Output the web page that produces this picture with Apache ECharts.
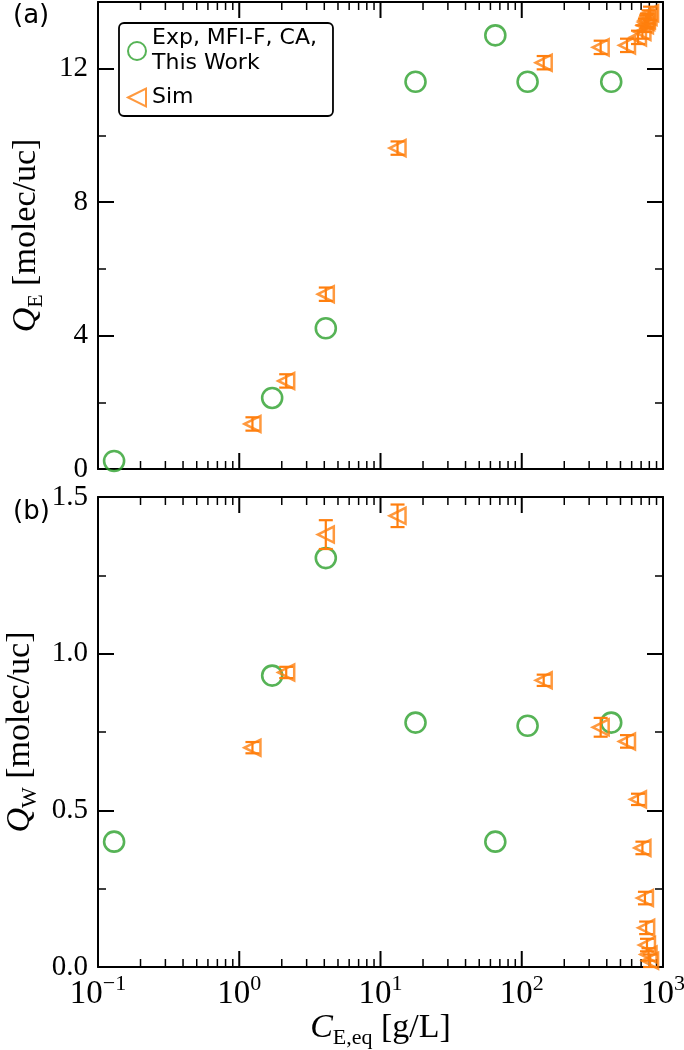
<!DOCTYPE html>
<html><head><meta charset="utf-8">
<script src="https://cdn.jsdelivr.net/npm/echarts@6/dist/echarts.min.js"></script>
<style>html,body{margin:0;padding:0;background:#fff}#c{width:684px;height:1050px}</style>
</head><body><div id="c"></div>
<script>
// ---- data ----
const expC  = [0.13, 1.71, 4.1, 17.7, 65, 110, 430];
const expQE = [0.24, 2.13, 4.22, 11.61, 13.0, 11.61, 11.61];
const expQW = [0.40, 0.93, 1.305, 0.78, 0.40, 0.77, 0.78];

const simC   = [1.24, 2.15, 4.1, 13.2, 143, 362, 556, 665, 715, 745, 760, 770, 790, 810];
const simQE  = [1.35, 2.64, 5.24, 9.62, 12.18, 12.64, 12.70, 12.94, 13.10, 13.30, 13.40, 13.45, 13.55, 13.66];
const simQEe = [0.2, 0.2, 0.2, 0.2, 0.2, 0.2, 0.2, 0.2, 0.2, 0.2, 0.2, 0.2, 0.2, 0.2];
const simQW  = [0.70, 0.94, 1.38, 1.44, 0.915, 0.765, 0.72, 0.535, 0.38, 0.22, 0.125, 0.07, 0.04, 0.02];
const simQWe = [0.018, 0.018, 0.046, 0.036, 0.018, 0.03, 0.02, 0.018, 0.02, 0.02, 0.02, 0.02, 0.02, 0.02];

const xDecades = [0.1, 1, 10, 100, 1000];
const qeTicks = [0, 4, 8, 12];
const qwTicks = [0.0, 0.5, 1.0, 1.5];

const GREEN = '#2ca02c', ORANGE = '#ff7f0e';
const SERIF = "'Liberation Serif', 'DejaVu Serif', serif";
const SANS = "'DejaVu Sans', 'Noto Sans', sans-serif";

// x-axis tick positions (decades + 2..9 minors)
const xTicks = xDecades.map(v => [v, 0]);
for (let k = -1; k < 3; k++) for (let m = 2; m < 10; m++) xTicks.push([m * Math.pow(10, k), 0]);

const chart = echarts.init(document.getElementById('c'));

const supMap = {'-1': '−1', '0': '0', '1': '1', '2': '2', '3': '3'};
function xLabel(v) {
  const e = Math.round(Math.log10(v));
  return '{b|10}{s|' + supMap[String(e)] + '}';
}

function titleRich(fs, sfs) {
  return {
    i: {fontFamily: SERIF, fontStyle: 'italic', fontSize: fs, color: '#000', lineHeight: fs + 8, verticalAlign: 'middle'},
    sub: {fontFamily: SERIF, fontSize: sfs, color: '#000', lineHeight: sfs, verticalAlign: 'bottom'},
    n: {fontFamily: SERIF, fontSize: fs, color: '#000', lineHeight: fs + 8, verticalAlign: 'middle'}
  };
}

function xAx(grid, pos, showLabels, name) {
  return {
    type: 'log', logBase: 10, gridIndex: grid, position: pos, min: 0.1, max: 1000,
    axisLine: {show: true, onZero: false, lineStyle: {color: '#000', width: 2}},
    axisTick: {show: false},
    minorTick: {show: false},
    splitLine: {show: false},
    axisLabel: {show: showLabels, margin: 6, formatter: xLabel, hideOverlap: false,
      rich: {
        b: {fontFamily: SERIF, fontSize: 33, color: '#000', lineHeight: 42, verticalAlign: 'middle'},
        s: {fontFamily: SERIF, fontSize: 22, color: '#000', lineHeight: 22, verticalAlign: 'top'}
      }},
    name: name || '',
    nameLocation: 'middle', nameGap: 36,
    nameTextStyle: {rich: titleRich(34, 22)}
  };
}

function yAx(grid, pos, min, max, interval, showLabels, fmt, name) {
  return {
    type: 'value', gridIndex: grid, position: pos, min: min, max: max, interval: interval,
    axisLine: {show: true, onZero: false, lineStyle: {color: '#000', width: 2}},
    axisTick: {show: true, inside: true, length: 16, lineStyle: {color: '#000', width: 2}},
    minorTick: {show: true, splitNumber: 2, length: 8, lineStyle: {color: '#000', width: 1.5}},
    splitLine: {show: false}, minorSplitLine: {show: false},
    axisLabel: {show: showLabels, margin: 10, fontFamily: SERIF, fontSize: 29, color: '#000',
      formatter: fmt, hideOverlap: false},
    name: name || '',
    nameLocation: 'middle', nameGap: 51, nameRotate: 90,
    nameTextStyle: {rich: titleRich(34, 22)}
  };
}

function fmtQE(v) { return qeTicks.indexOf(v) >= 0 ? String(v) : ''; }
function fmtQW(v) { return qwTicks.some(t => Math.abs(t - v) < 1e-9) ? v.toFixed(1) : ''; }

function errRender(params, api) {
  const x = api.value(0), lo = api.value(1), hi = api.value(2);
  const p1 = api.coord([x, lo]), p2 = api.coord([x, hi]);
  const w = 7;
  const st = {stroke: ORANGE, lineWidth: 2.2};
  return {type: 'group', children: [
    {type: 'line', shape: {x1: p1[0], y1: p1[1], x2: p2[0], y2: p2[1]}, style: st},
    {type: 'line', shape: {x1: p1[0] - w, y1: p1[1], x2: p1[0] + w, y2: p1[1]}, style: st},
    {type: 'line', shape: {x1: p2[0] - w, y1: p2[1], x2: p2[0] + w, y2: p2[1]}, style: st}
  ]};
}

function tickRender(params, api) {
  const cs = params.coordSys;
  const v = api.value(0);
  const px = api.coord([v, api.value(1)])[0];
  const lg = Math.log10(v);
  const major = Math.abs(lg - Math.round(lg)) < 1e-6;
  const len = major ? 16 : 8;
  const st = {stroke: '#000', lineWidth: major ? 2 : 1.5};
  const yb = cs.y + cs.height, yt = cs.y;
  return {type: 'group', children: [
    {type: 'line', shape: {x1: px, y1: yb, x2: px, y2: yb - len}, style: st},
    {type: 'line', shape: {x1: px, y1: yt, x2: px, y2: yt + len}, style: st}
  ]};
}

const expName = 'Exp, MFI-F, CA,\nThis Work';
const TRI_LEFT = 'path://M0,50L100,0L100,100Z';
const expStyle = {symbol: 'circle', symbolSize: 20,
  itemStyle: {color: 'rgba(255,255,255,0)', borderColor: GREEN, borderWidth: 2.6}};
const simStyle = {symbol: TRI_LEFT, symbolSize: 16,
  itemStyle: {color: 'rgba(255,255,255,0)', borderColor: ORANGE, borderWidth: 2.5}};

function zip(a, b) { return a.map((v, i) => [v, b[i]]); }
function errData(c, q, e) { return c.map((v, i) => [v, q[i] - e[i], q[i] + e[i]]); }

const option = {
  backgroundColor: '#fff',
  animation: false,
  grid: [
    {left: 98, top: 2, width: 565, height: 467, outerBoundsMode: 'none', containLabel: false},
    {left: 98, top: 497, width: 565, height: 470, outerBoundsMode: 'none', containLabel: false}
  ],
  xAxis: [
    xAx(0, 'bottom', false),
    xAx(0, 'top', false),
    xAx(1, 'bottom', true, '{i|C}{sub|E,eq}{n| [g/L]}'),
    xAx(1, 'top', false)
  ],
  yAxis: [
    yAx(0, 'left', 0, 14, 4, true, fmtQE, '{i|Q}{sub|E}{n| [molec/uc]}'),
    yAx(0, 'right', 0, 14, 4, false, fmtQE),
    yAx(1, 'left', 0, 1.5, 0.5, true, fmtQW, '{i|Q}{sub|W}{n| [molec/uc]}'),
    yAx(1, 'right', 0, 1.5, 0.5, false, fmtQW)
  ],
  legend: {
    data: [expName, {name: 'Sim', icon: TRI_LEFT}],
    orient: 'vertical', left: 119, top: 23,
    itemWidth: 20, itemHeight: 18, itemGap: 9,
    borderColor: '#000', borderWidth: 1.8, borderRadius: 5,
    padding: [3, 16, 6, 8],
    textStyle: {fontFamily: SANS, fontSize: 22, lineHeight: 25, color: '#000'},
    selectedMode: false
  },
  graphic: [
    {type: 'text', left: 13, top: 3, style: {text: '(a)', font: '26px ' + SANS, fill: '#000'}},
    {type: 'text', left: 13, top: 499, style: {text: '(b)', font: '26px ' + SANS, fill: '#000'}}
  ],
  series: [
    {type: 'custom', name: 'xticks-a', xAxisIndex: 0, yAxisIndex: 0, silent: true, clip: false,
      data: xTicks, renderItem: tickRender, encode: {x: 0, y: 1}, z: 1},
    {type: 'custom', name: 'xticks-b', xAxisIndex: 2, yAxisIndex: 2, silent: true, clip: false,
      data: xTicks, renderItem: tickRender, encode: {x: 0, y: 1}, z: 1},
    Object.assign({type: 'scatter', name: expName, xAxisIndex: 0, yAxisIndex: 0, data: zip(expC, expQE), z: 3}, expStyle),
    {type: 'custom', name: 'err-a', xAxisIndex: 0, yAxisIndex: 0, silent: true,
      data: errData(simC, simQE, simQEe), renderItem: errRender, encode: {x: 0, y: [1, 2]}, z: 4},
    Object.assign({type: 'scatter', name: 'Sim', xAxisIndex: 0, yAxisIndex: 0, data: zip(simC, simQE), z: 5}, simStyle),
    Object.assign({type: 'scatter', name: expName, xAxisIndex: 2, yAxisIndex: 2, data: zip(expC, expQW), z: 3}, expStyle),
    {type: 'custom', name: 'err-b', xAxisIndex: 2, yAxisIndex: 2, silent: true,
      data: errData(simC, simQW, simQWe), renderItem: errRender, encode: {x: 0, y: [1, 2]}, z: 4},
    Object.assign({type: 'scatter', name: 'Sim', xAxisIndex: 2, yAxisIndex: 2, data: zip(simC, simQW), z: 5}, simStyle)
  ]
};
chart.setOption(option);
</script>
</body></html>
